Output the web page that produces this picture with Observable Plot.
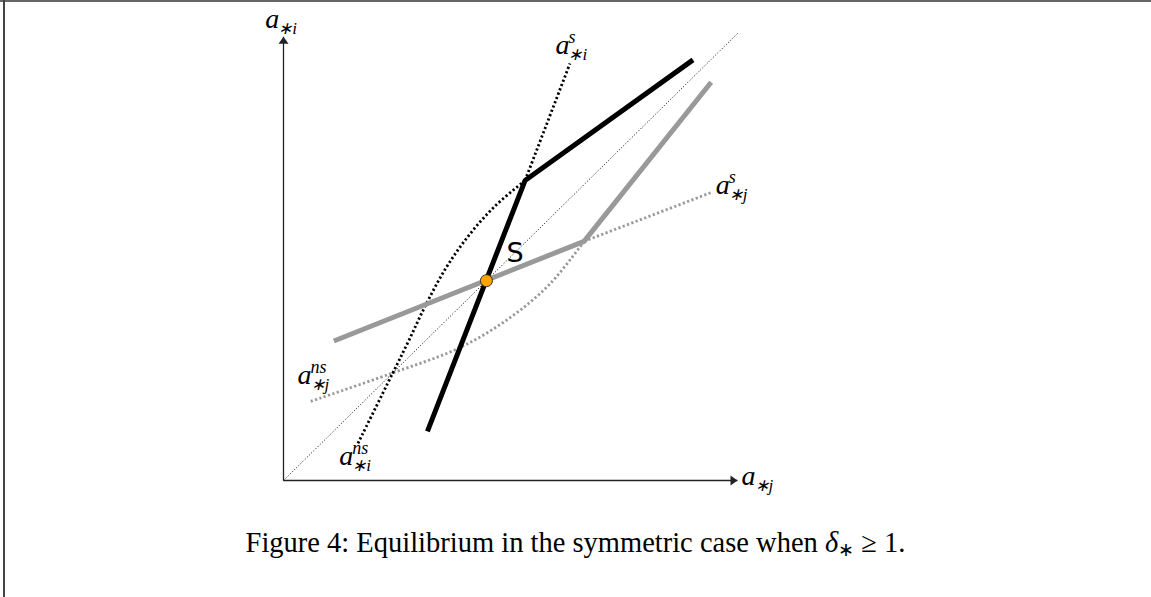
<!DOCTYPE html>
<html><head><meta charset="utf-8">
<script src="https://cdn.jsdelivr.net/npm/d3@7"></script>
<script src="https://cdn.jsdelivr.net/npm/@observablehq/plot@0.6"></script>
<style>
html,body{margin:0;padding:0;background:#fff;}
#wrap{position:relative;width:1151px;height:597px;overflow:hidden;background:#fff;}
#topline{position:absolute;left:0;top:0;width:1151px;height:2px;background:#666;}
#leftline{position:absolute;left:3px;top:0;width:2px;height:597px;background:#444;}
#caption{font-family:"Liberation Serif",serif;font-size:28.5px;line-height:30px;text-align:center;margin-top:8px;color:#000;}
#caption sub{font-size:19px;vertical-align:-4px;line-height:0;}
</style></head><body>
<div id="wrap"><div id="chart"></div><div id="caption">Figure 4: Equilibrium in the symmetric case when <i>δ</i><sub>∗</sub> ≥ 1.</div><div id="topline"></div><div id="leftline"></div></div>
<script>
// axis extents (data units)
const xMax = 10;
const yMax = 9.93;
// 45-degree line
const diagX = [0, 10];
const diagY = [0, 10];
// best response of i (thick black)
const brIx = [3.17, 5.32, 9.02];
const brIy = [1.10, 6.71, 9.41];
// best response of j (thick grey)
const brJx = [1.11, 6.62, 9.42];
const brJy = [3.12, 5.35, 8.91];
// a^ns_{*i} branch (dotted black), curving into the kink
const nsIx = [1.64, 2.40, 2.76, 3.13, 3.57, 4.08, 4.67, 5.32];
const nsIy = [0.83, 2.39, 3.13, 3.92, 4.74, 5.48, 6.15, 6.71];
// a^s_{*i} branch (dotted black)
const sIx = [5.32, 6.31];
const sIy = [6.71, 9.33];
// a^ns_{*j} branch (dotted grey)
const nsJx = [0.60, 2.36, 3.90, 5.00, 5.88, 6.62];
const nsJy = [1.77, 2.39, 2.98, 3.65, 4.41, 5.35];
// a^s_{*j} branch (dotted grey)
const sJx = [6.62, 9.44];
const sJy = [5.35, 6.45];
// equilibrium point S
const eqX = [4.47];
const eqY = [4.47];
const eqLabel = ["S"];
const eqLabelX = [4.91];
const eqLabelY = [4.88];
// math labels
const labelBase = ["a", "a", "a", "a", "a", "a"];
const labelSup  = ["", "s", "s", "ns", "ns", ""];
const labelSub  = ["∗i", "∗i", "∗j", "∗j", "∗i", "∗j"];
const labelX = [-0.40, 5.99, 9.52, 0.31, 1.23, 10.09];
const labelY = [10.13, 9.55, 6.42, 2.17, 0.34, -0.11];

const pts = (xs, ys) => xs.map((x, i) => ({x, y: ys[i]}));
const labels = labelX.map((x, i) => ({x, y: labelY[i], base: labelBase[i], sup: labelSup[i], sub: labelSub[i]}));
const axes = [{x1: 0, y1: 0, x2: xMax, y2: 0, r: 90}, {x1: 0, y1: 0, x2: 0, y2: yMax, r: 0}];

const headShape = {
  draw(context, l) {
    context.moveTo(0, -l);
    context.lineTo(-5, 0);
    context.lineTo(5, 0);
    context.closePath();
  }
};

const serif = "Liberation Serif";
const dotted = {strokeWidth: 2.8, strokeDasharray: "2.2,2.4", strokeLinecap: "butt"};
const plot = Plot.plot({
  width: 1151,
  height: 520,
  marginLeft: 283,
  marginRight: 414,
  marginTop: 33,
  marginBottom: 40,
  x: {domain: [0, 10], axis: null},
  y: {domain: [0, 10], axis: null},
  marks: [
    Plot.line(pts(diagX, diagY), {x: "x", y: "y", stroke: "#000", strokeWidth: 1, strokeDasharray: "1,2", strokeLinecap: "butt"}),
    Plot.line(pts(nsJx, nsJy), {x: "x", y: "y", curve: "catmull-rom", stroke: "#999", ...dotted}),
    Plot.line(pts(sJx, sJy), {x: "x", y: "y", stroke: "#999", ...dotted}),
    Plot.line(pts(nsIx, nsIy), {x: "x", y: "y", curve: "catmull-rom", stroke: "#000", ...dotted}),
    Plot.line(pts(sIx, sIy), {x: "x", y: "y", stroke: "#000", ...dotted}),
    Plot.line(pts(brJx, brJy), {x: "x", y: "y", stroke: "#999", strokeWidth: 5, strokeLinejoin: "miter", strokeLinecap: "butt"}),
    Plot.line(pts(brIx, brIy), {x: "x", y: "y", stroke: "#000", strokeWidth: 5, strokeLinejoin: "miter", strokeLinecap: "butt"}),
    Plot.link(axes, {x1: "x1", y1: "y1", x2: "x2", y2: "y2", stroke: "#222", strokeWidth: 1.3}),
    Plot.vector(axes, {x: "x2", y: "y2", rotate: "r", length: 7, anchor: "end", shape: headShape, fill: "#222", stroke: "none"}),
    Plot.dot(pts(eqX, eqY), {x: "x", y: "y", r: 6, fill: "#FFA500", stroke: "#333", strokeWidth: 1}),
    Plot.text(eqLabelX.map((x, i) => ({x, y: eqLabelY[i], t: eqLabel[i]})), {x: "x", y: "y", text: "t", textAnchor: "start", lineAnchor: "bottom", fontFamily: "DejaVu Sans", fontSize: 27, fill: "#000"}),
    Plot.text(labels, {x: "x", y: "y", text: "base", textAnchor: "start", lineAnchor: "bottom", fontFamily: serif, fontStyle: "italic", fontSize: 28, fill: "#000"}),
    Plot.text(labels, {x: "x", y: "y", text: "sup", dx: 13, dy: -11, textAnchor: "start", lineAnchor: "bottom", fontFamily: serif, fontStyle: "italic", fontSize: 18, fill: "#000"}),
    Plot.text(labels, {x: "x", y: "y", text: "sub", dx: 13, dy: 6, textAnchor: "start", lineAnchor: "bottom", fontFamily: serif, fontStyle: "italic", fontSize: 17, fill: "#000"})
  ]
});
document.getElementById("chart").appendChild(plot);
</script>
</body></html>
